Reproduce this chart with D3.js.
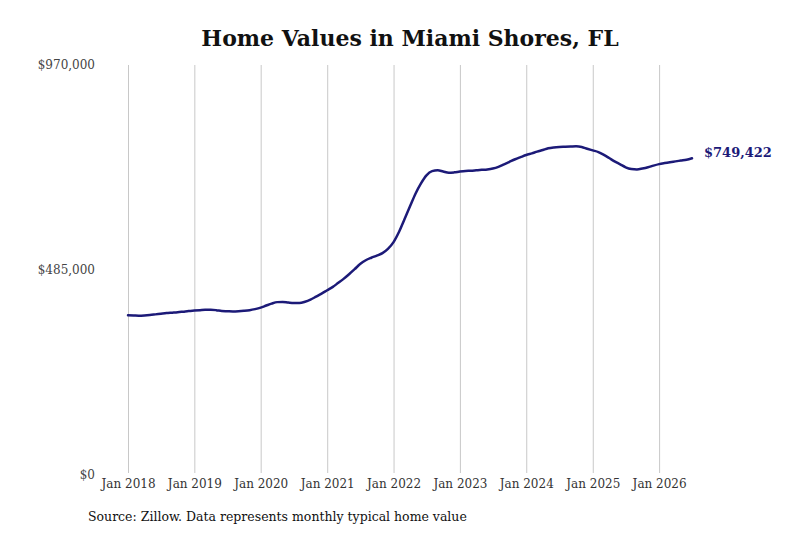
<!DOCTYPE html>
<html>
<head>
<meta charset="utf-8">
<script src="https://cdn.jsdelivr.net/npm/d3@7"></script>
<style>
  body { margin: 0; background: #fff; }
  svg { display: block; }
  text { font-family: "DejaVu Serif", serif; }
</style>
</head>
<body>
<div id="chart-area"></div>
<script>

// typical home value, monthly, Jan 2018 .. Jul 2026
var startMonth = "2018-01";
var values = [
    378000, 377500, 377000, 377500, 378500, 380000, 381500, 383000, 384000, 385000, 386500, 388000,
    389000, 390000, 391000, 391000, 390000, 388000, 387500, 387000, 387500, 388500, 390000, 392500,
    396000, 401000, 405500, 409000, 409500, 408000, 407000, 407000, 410000, 415000, 422000, 429000,
    437000, 445000, 454000, 464000, 475000, 487000, 499000, 508000, 514000, 519000, 525000, 535000,
    551000, 576000, 604000, 635000, 665000, 690000, 709000, 719000, 721000, 718000, 715000, 716000,
    718000, 719500, 720000, 721000, 722000, 723000, 725000, 729000, 735000, 741000, 747000, 752000,
    757000, 761000, 765000, 769000, 773000, 775000, 776000, 776500, 777000, 777500, 776000, 772000,
    768000, 764000, 758000, 750000, 742000, 735000, 728000, 724000, 723000, 725000, 728000, 732000,
    735500, 738000, 740000, 742000, 744000, 746000, 749422
];

var yTicks = [0, 485000, 970000];
var xTickYears = [2018, 2019, 2020, 2021, 2022, 2023, 2024, 2025, 2026];

var title = "Home Values in Miami Shores, FL";
var source = "Source: Zillow. Data represents monthly typical home value";

var width = 800;
var height = 533;

var parseMonth = d3.timeParse("%Y-%m");
var start = parseMonth(startMonth);

var data = values.map(function(v, i) {
    return { date: d3.timeMonth.offset(start, i), value: v };
});

var svg = d3.select("#chart-area")
    .append("svg")
    .attr("width", width)
    .attr("height", height);

var x = d3.scaleTime()
    .domain([start, data[data.length - 1].date])
    .range([128, 692]);

var y = d3.scaleLinear()
    .domain([0, 970000])
    .range([475, 65]);

// title
svg.append("text")
    .attr("x", 410)
    .attr("y", 46)
    .attr("text-anchor", "middle")
    .style("font-size", "22px")
    .style("font-weight", "bold")
    .style("fill", "#111")
    .text(title);

// vertical grid + x labels (grid stops a little above the labels)
var xAxis = d3.axisBottom(x)
    .tickValues(xTickYears.map(function(yr) { return new Date(yr, 0, 1); }))
    .tickFormat(d3.timeFormat("Jan %Y"))
    .tickSize(-(473 - 65))
    .tickPadding(6);

var gx = svg.append("g")
    .attr("transform", "translate(0,473)")
    .call(xAxis);
gx.select(".domain").remove();
gx.selectAll("line").attr("stroke", "#c8c8c8");
gx.selectAll("text")
    .style("font-size", "12px")
    .style("fill", "#333");

// y labels
var yAxis = d3.axisLeft(y)
    .tickValues(yTicks)
    .tickFormat(function(d) { return "$" + d3.format(",")(d); })
    .tickSize(0)
    .tickPadding(0);

var gy = svg.append("g")
    .attr("transform", "translate(95,0)")
    .call(yAxis);
gy.select(".domain").remove();
gy.selectAll("text")
    .style("font-size", "12px")
    .style("fill", "#444");

// the line
var line = d3.line()
    .x(function(d) { return x(d.date); })
    .y(function(d) { return y(d.value); })
    .curve(d3.curveMonotoneX);

svg.append("path")
    .datum(data)
    .attr("fill", "none")
    .attr("stroke", "#1c1a78")
    .attr("stroke-width", 2.5)
    .attr("stroke-linecap", "round")
    .attr("d", line);

// end label
var last = data[data.length - 1];
svg.append("text")
    .attr("x", x(last.date) + 12)
    .attr("y", y(last.value) - 1)
    .style("font-size", "13px")
    .style("font-weight", "bold")
    .style("fill", "#1c1a78")
    .text("$" + d3.format(",")(last.value));

// source note
svg.append("text")
    .attr("x", 88)
    .attr("y", 521)
    .style("font-size", "12.5px")
    .style("fill", "#111")
    .text(source);

</script>
</body>
</html>
